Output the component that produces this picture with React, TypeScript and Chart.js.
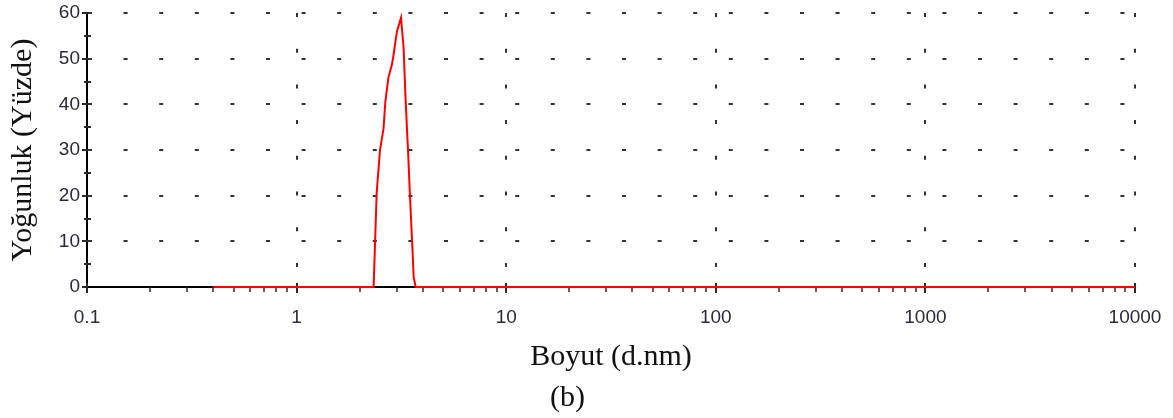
import React, { useEffect, useRef } from 'react';
import { Chart, registerables } from 'chart.js';

Chart.register(...registerables);

// Particle size (d.nm) and intensity (%)
const sizes = [0.4, 2.33, 2.37, 2.41, 2.5, 2.6, 2.65, 2.74, 2.85, 2.9, 3.01, 3.15, 3.19, 3.24, 3.3, 3.36, 3.4, 3.47, 3.56, 3.62, 3.7, 10000];
const intensity = [0, 0, 10.2, 20.6, 30.0, 34.8, 40.5, 45.8, 48.7, 50.8, 55.9, 59.0, 56.0, 52.4, 42.7, 34.8, 30.0, 20.6, 9.6, 2.1, 0, 0];

const xTickValues = [0.1, 1, 10, 100, 1000, 10000];
const xTickLabels = ['0.1', '1', '10', '100', '1000', '10000'];
const xMinorMultipliers = [2, 3, 4, 5, 6, 7, 8, 9];
const yTickValues = [0, 10, 20, 30, 40, 50, 60];
const yMinorValues = [5, 15, 25, 35, 45, 55];

const xTitle = 'Boyut (d.nm)';
const yTitle = 'Yoğunluk (Yüzde)';
const caption = '(b)';

const tickMarks = {
  id: 'tickMarks',
  beforeDatasetsDraw(chart: any) {
    const { ctx, scales, chartArea } = chart;
    const x = scales.x;
    const y = scales.y;
    const base = chartArea.bottom;
    const left = chartArea.left;
    const line = (x1: number, y1: number, x2: number, y2: number) => {
      ctx.beginPath();
      ctx.moveTo(x1, y1);
      ctx.lineTo(x2, y2);
      ctx.stroke();
    };
    ctx.save();
    ctx.strokeStyle = '#2a2a2a';
    ctx.lineWidth = 1.5;
    xTickValues.slice(0, -1).forEach((d) => {
      xMinorMultipliers.forEach((m) => {
        const px = Math.round(x.getPixelForValue(d * m));
        line(px, base, px, base + 5);
      });
    });
    ctx.lineWidth = 2;
    xTickValues.forEach((v) => {
      const px = Math.round(x.getPixelForValue(v));
      line(px, base - 4, px, base + 6);
    });
    yMinorValues.forEach((v) => {
      const py = Math.round(y.getPixelForValue(v));
      line(left - 3, py, left + 4, py);
    });
    yTickValues.forEach((v) => {
      const py = Math.round(y.getPixelForValue(v));
      line(left - 5, py, left + 1, py);
    });
    ctx.restore();
  },
};

export default function App() {
  const ref = useRef<HTMLCanvasElement | null>(null);

  useEffect(() => {
    if (!ref.current) return;
    const chart = new Chart(ref.current, {
      type: 'line',
      data: {
        datasets: [
          {
            data: sizes.map((s, i) => ({ x: s, y: intensity[i] })),
            borderColor: '#ff0000',
            borderWidth: 2,
            pointRadius: 0,
            tension: 0,
            fill: false,
            clip: false as any,
          },
        ],
      },
      options: {
        animation: false,
        responsive: false,
        devicePixelRatio: 1,
        layout: { padding: { top: 13, right: 38, left: 0, bottom: 0 } },
        plugins: {
          legend: { display: false },
          tooltip: { enabled: false },
          title: {
            display: true,
            text: caption,
            position: 'bottom',
            color: '#111',
            font: { family: '"Liberation Serif", "Times New Roman", serif', size: 30, weight: 'normal' },
            padding: { top: 0, bottom: 2 },
          },
        },
        scales: {
          x: {
            type: 'logarithmic',
            min: 0.1,
            max: 10000,
            afterBuildTicks: (s: any) => {
              s.ticks = xTickValues.map((v) => ({ value: v }));
            },
            afterFit: (s: any) => {
              s.height = 93;
              s.paddingLeft = 0;
              s.paddingRight = 0;
            },
            ticks: {
              autoSkip: false,
              maxRotation: 0,
              padding: 19,
              color: '#2a2a3a',
              font: { family: '"Liberation Sans", Arial, sans-serif', size: 19 },
              callback: (_v: any, i: number) => xTickLabels[i],
            },
            grid: {
              color: (c: any) => (c.index === 0 ? 'rgba(0,0,0,0)' : '#333'),
              lineWidth: 2,
              drawTicks: false,
            },
            border: { display: true, color: '#000', width: 2, dash: [4, 31.7], dashOffset: 0 },
            title: {
              display: true,
              text: xTitle,
              color: '#111',
              font: { family: '"Liberation Serif", "Times New Roman", serif', size: 30, weight: 'normal' },
              padding: { top: 0, bottom: 5 },
            },
          },
          y: {
            type: 'linear',
            min: 0,
            max: 60,
            afterBuildTicks: (s: any) => {
              s.ticks = yTickValues.map((v) => ({ value: v }));
            },
            afterFit: (s: any) => {
              s.width = 87;
              s.paddingTop = 0;
              s.paddingBottom = 0;
            },
            ticks: {
              padding: 7,
              color: '#2a2a3a',
              font: { family: '"Liberation Sans", Arial, sans-serif', size: 19 },
              callback: (v: any) => String(v),
            },
            grid: {
              color: (c: any) => (c.index === 0 ? 'rgba(0,0,0,0)' : '#333'),
              lineWidth: 2,
              drawTicks: false,
            },
            border: { display: true, color: '#000', width: 2, dash: [4, 31.6], dashOffset: 0 },
            title: {
              display: true,
              text: yTitle,
              color: '#111',
              font: { family: '"Liberation Serif", "Times New Roman", serif', size: 30, weight: 'normal' },
              padding: { top: 5, bottom: 0 },
            },
          },
        },
      },
      plugins: [tickMarks],
    } as any);
    return () => chart.destroy();
  }, []);

  return (
    <div style={{ position: 'fixed', left: 0, top: 0, width: 1173, height: 418, background: '#fff' }}>
      <canvas ref={ref} width={1173} height={418} style={{ display: 'block' }} />
    </div>
  );
}
